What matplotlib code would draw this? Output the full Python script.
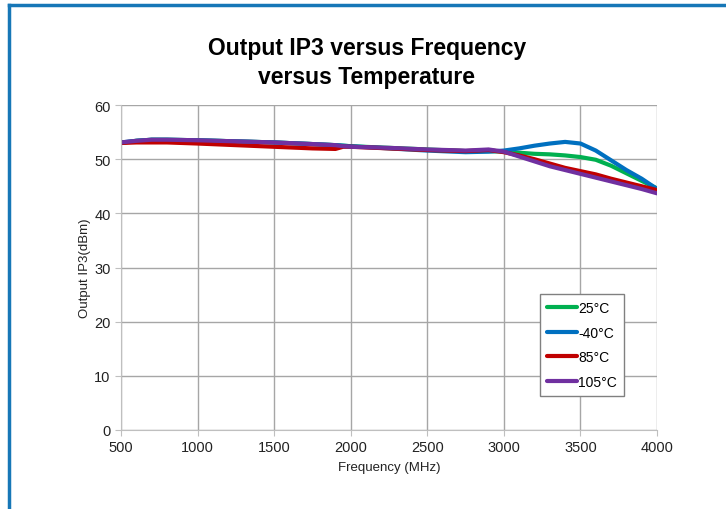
import matplotlib.pyplot as plt
from matplotlib.lines import Line2D

plt.rcParams['font.family'] = ['Liberation Sans', 'DejaVu Sans']

# Data
freq = [500, 600, 700, 800, 1000, 1250, 1500, 1750, 1900, 1950, 2000, 2250, 2500,
        2750, 2900, 3000, 3100, 3200, 3300, 3400, 3500, 3600, 3700, 3800, 3900, 4000]
t25 = [53.0, 53.4, 53.6, 53.6, 53.5, 53.3, 53.1, 52.8, 52.6, 52.5, 52.4, 52.1, 51.8,
       51.5, 51.5, 51.4, 51.2, 51.0, 50.9, 50.7, 50.4, 49.9, 48.8, 47.4, 46.0, 44.6]
tm40 = [53.1, 53.4, 53.6, 53.6, 53.5, 53.3, 53.1, 52.8, 52.6, 52.5, 52.4, 52.0, 51.6,
        51.3, 51.4, 51.6, 52.0, 52.5, 52.9, 53.2, 52.9, 51.6, 49.8, 48.0, 46.4, 44.5]
t85 = [53.0, 53.1, 53.1, 53.1, 52.9, 52.6, 52.3, 52.0, 51.9, 52.3, 52.3, 52.0, 51.7,
       51.5, 51.7, 51.3, 50.7, 50.0, 49.2, 48.4, 47.8, 47.2, 46.4, 45.7, 45.0, 44.3]
t105 = [53.1, 53.4, 53.6, 53.6, 53.5, 53.3, 53.1, 52.8, 52.6, 52.4, 52.3, 52.1, 51.8,
        51.6, 51.8, 51.4, 50.5, 49.6, 48.7, 48.0, 47.3, 46.6, 45.9, 45.2, 44.5, 43.7]

series = [("25°C", t25, "#00B050"),
          ("-40°C", tm40, "#0070C0"),
          ("85°C", t85, "#C00000"),
          ("105°C", t105, "#7030A0")]

fig = plt.figure(figsize=(7.26, 5.10), dpi=100)
ax = fig.add_axes([0.1667, 0.155, 0.7383, 0.637])

for name, vals, col in series:
    ax.plot(freq, vals, color=col, lw=3, label=name, solid_capstyle='round')

ax.set_xlim(500, 4000)
ax.set_ylim(0, 60)
ax.set_xticks(range(500, 4001, 500))
ax.set_yticks(range(0, 61, 10))
ax.grid(True, color="#A6A6A6", lw=1)
ax.set_axisbelow(True)
for s in ["top", "right"]:
    ax.spines[s].set_visible(False)
for s in ["left", "bottom"]:
    ax.spines[s].set_color("#BFBFBF")
ax.tick_params(colors="#BFBFBF", labelcolor="#222222", labelsize=10.5, length=4)

ax.set_xlabel("Frequency (MHz)", fontsize=9.5, color="#222222", labelpad=5)
ax.set_ylabel("Output IP3(dBm)", fontsize=9.5, color="#222222", labelpad=2)

fig.text(0.505, 0.876, "Output IP3 versus Frequency\nversus Temperature",
         ha="center", va="center", fontsize=16.5, fontweight="bold",
         linespacing=1.32)

leg = ax.legend(loc="lower left", bbox_to_anchor=(0.782, 0.105), fontsize=10,
                frameon=True, fancybox=False, handlelength=2.15, handletextpad=0.1,
                labelspacing=0.76, borderpad=0.5, borderaxespad=0)
leg.get_frame().set_edgecolor("#808080")
leg.get_frame().set_linewidth(1)
leg.get_frame().set_alpha(1)

# blue frame on top and left edges
fig.add_artist(Line2D([0.012, 1.0], [0.988, 0.988], color="#1777B7", lw=2.5,
                      transform=fig.transFigure))
fig.add_artist(Line2D([0.012, 0.012], [0.0, 0.988], color="#1777B7", lw=2.5,
                      transform=fig.transFigure))

fig.savefig("out.png", dpi=100)
